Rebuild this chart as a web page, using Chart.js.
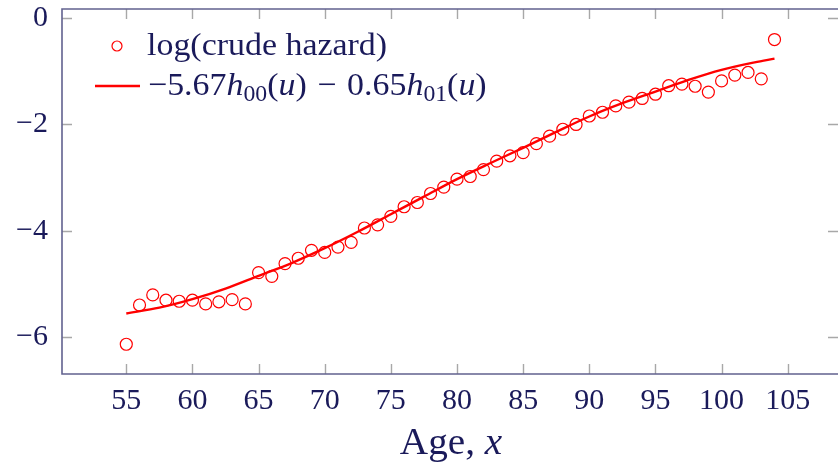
<!DOCTYPE html>
<html>
<head>
<meta charset="utf-8">
<script src="https://cdn.jsdelivr.net/npm/chart.js@4"></script>
<style>
  html, body { margin: 0; padding: 0; background: #fff; }
  #wrap { width: 838px; height: 467px; position: relative; }
</style>
</head>
<body>
<div id="wrap"><canvas id="hazard"></canvas></div>
<script>
//Data
const ages = [55, 56, 57, 58, 59, 60, 61, 62, 63, 64, 65, 66, 67, 68, 69, 70, 71, 72, 73, 74,
  75, 76, 77, 78, 79, 80, 81, 82, 83, 84, 85, 86, 87, 88, 89, 90, 91, 92, 93, 94,
  95, 96, 97, 98, 99, 100, 101, 102, 103, 104];
const logHazard = [-6.14, -5.40, -5.21, -5.31, -5.33, -5.31, -5.38, -5.34, -5.30, -5.38,
  -4.79, -4.86, -4.62, -4.52, -4.37, -4.41, -4.31, -4.22, -3.95, -3.89,
  -3.73, -3.55, -3.47, -3.30, -3.18, -3.03, -2.98, -2.85, -2.69, -2.59,
  -2.53, -2.36, -2.22, -2.09, -2.00, -1.84, -1.77, -1.65, -1.58, -1.51,
  -1.43, -1.27, -1.24, -1.28, -1.39, -1.18, -1.07, -1.02, -1.14, -0.40];

//Fitted curve
const fitAges = [55, 57.5, 60, 62.5, 65, 67.5, 70, 72.5, 75, 77.5, 80, 82.5, 85, 87.5, 90, 92.5, 95, 97.5, 100, 102.5, 104];
const fitValues = [-5.56, -5.45, -5.29, -5.09, -4.85, -4.61, -4.33, -4.02, -3.69, -3.36, -3.03, -2.73, -2.44, -2.14, -1.85, -1.60, -1.38, -1.16, -0.97, -0.83, -0.76];

const xTicks = [55, 60, 65, 70, 75, 80, 85, 90, 95, 100, 105];
const yTicks = [0, -2, -4, -6];

const TEXT = '#1a1a5a';
const FRAME = '#62628f';
const TICK = '#a8a8a8';
const SERIF = "'Liberation Serif', 'DejaVu Serif', serif";
const STRETCH = 1.06;

//------------------------------------------

//Draws a run of text pieces (regular / italic / subscript), slightly widened
function drawRich(ctx, parts, x, y, size) {
  ctx.save();
  ctx.translate(x, y);
  ctx.scale(STRETCH, 1);
  let cx = 0;
  parts.forEach(p => {
    const s = p.sub ? size * 0.7 : size;
    ctx.font = (p.it ? 'italic ' : '') + s + 'px ' + SERIF;
    ctx.fillText(p.t, cx, p.sub ? size * 0.2 : 0);
    cx += ctx.measureText(p.t).width + (p.gap || 0);
  });
  ctx.restore();
  return cx * STRETCH;
}

function richWidth(ctx, parts, size) {
  let w = 0;
  parts.forEach(p => {
    const s = p.sub ? size * 0.7 : size;
    ctx.font = (p.it ? 'italic ' : '') + s + 'px ' + SERIF;
    w += ctx.measureText(p.t).width + (p.gap || 0);
  });
  return w * STRETCH;
}

//frame, inward ticks, legend and axis title
const decor = {
  id: 'decor',
  afterDatasetsDraw(chart) {
    const {ctx, chartArea: {top, bottom, left, right}, scales: {x, y}} = chart;
    ctx.save();
    ctx.strokeStyle = TICK;
    ctx.lineWidth = 1.4;
    ctx.beginPath();
    xTicks.forEach(v => {
      const px = Math.round(x.getPixelForValue(v)) + 0.5;
      ctx.moveTo(px, bottom); ctx.lineTo(px, bottom - 10);
      ctx.moveTo(px, top); ctx.lineTo(px, top + 10);
    });
    yTicks.forEach(v => {
      const py = Math.round(y.getPixelForValue(v)) + 0.5;
      ctx.moveTo(left, py); ctx.lineTo(left + 10, py);
      ctx.moveTo(right, py); ctx.lineTo(right - 10, py);
    });
    ctx.stroke();

    ctx.strokeStyle = FRAME;
    ctx.lineWidth = 1.6;
    ctx.beginPath();
    ctx.moveTo(right + 2, top);
    ctx.lineTo(left, top);
    ctx.lineTo(left, bottom);
    ctx.lineTo(right + 2, bottom);
    ctx.stroke();

    //legend
    ctx.strokeStyle = '#ff0000';
    ctx.lineWidth = 1.2;
    ctx.beginPath();
    ctx.arc(117, 46, 5, 0, Math.PI * 2);
    ctx.stroke();
    ctx.lineWidth = 2.4;
    ctx.beginPath();
    ctx.moveTo(95, 86); ctx.lineTo(140, 86);
    ctx.stroke();

    ctx.fillStyle = TEXT;
    ctx.textBaseline = 'alphabetic';
    ctx.textAlign = 'left';
    drawRich(ctx, [{t: 'log(crude hazard)'}], 147, 55, 32);
    drawRich(ctx, [
      {t: '\u22125.67'}, {t: 'h', it: true}, {t: '00', sub: true}, {t: '('}, {t: 'u', it: true}, {t: ')', gap: 10},
      {t: '\u2212', gap: 10}, {t: '0.65'}, {t: 'h', it: true}, {t: '01', sub: true}, {t: '('}, {t: 'u', it: true}, {t: ')'}
    ], 148, 95, 32);

    //axis title
    const title = [{t: 'Age, '}, {t: 'x', it: true}];
    const tw = richWidth(ctx, title, 37);
    ctx.fillStyle = TEXT;
    drawRich(ctx, title, 451 - tw / 2, 454, 37);
    ctx.restore();
  }
};

//------------------------------------------

const data = {
  datasets: [
    {
      label: 'log(crude hazard)',
      data: ages.map((a, i) => ({x: a, y: logHazard[i]})),
      showLine: false,
      pointRadius: 6,
      pointBorderWidth: 1.2,
      pointBorderColor: '#ff0000',
      pointBackgroundColor: 'rgba(0,0,0,0)',
      order: 2
    },
    {
      label: 'fit',
      data: fitAges.map((a, i) => ({x: a, y: fitValues[i]})),
      showLine: true,
      borderColor: '#ff0000',
      borderWidth: 2.4,
      pointRadius: 0,
      cubicInterpolationMode: 'monotone',
      order: 1
    }
  ]
};

const config = {
  type: 'scatter',
  data: data,
  options: {
    responsive: false,
    animation: false,
    layout: {autoPadding: false, padding: {top: 9, right: 0, left: 0, bottom: 0}},
    plugins: {legend: {display: false}, tooltip: {enabled: false}},
    scales: {
      x: {
        type: 'linear',
        min: 50.14,
        max: 108.8,
        grid: {display: false, drawTicks: false},
        border: {display: false},
        ticks: {font: {family: SERIF, size: 30}, color: TEXT, padding: 9, maxRotation: 0},
        afterBuildTicks(scale) { scale.ticks = xTicks.map(v => ({value: v})); },
        afterFit(scale) { scale.height = 93; scale.paddingLeft = 0; scale.paddingRight = 0; }
      },
      y: {
        type: 'linear',
        min: -6.70,
        max: 0.175,
        grid: {display: false, drawTicks: false},
        border: {display: false},
        ticks: {
          font: {family: SERIF, size: 30}, color: TEXT, padding: 14,
          callback: v => (v < 0 ? '\u2212' + Math.abs(v) : '' + v)
        },
        afterBuildTicks(scale) { scale.ticks = yTicks.map(v => ({value: v})); },
        afterFit(scale) { scale.width = 62; scale.paddingTop = 0; scale.paddingBottom = 0; }
      }
    }
  },
  plugins: [decor]
};

const cv = document.getElementById('hazard');
cv.width = 838;
cv.height = 467;
const hazard_chart = new Chart(cv, config);
</script>
</body>
</html>
